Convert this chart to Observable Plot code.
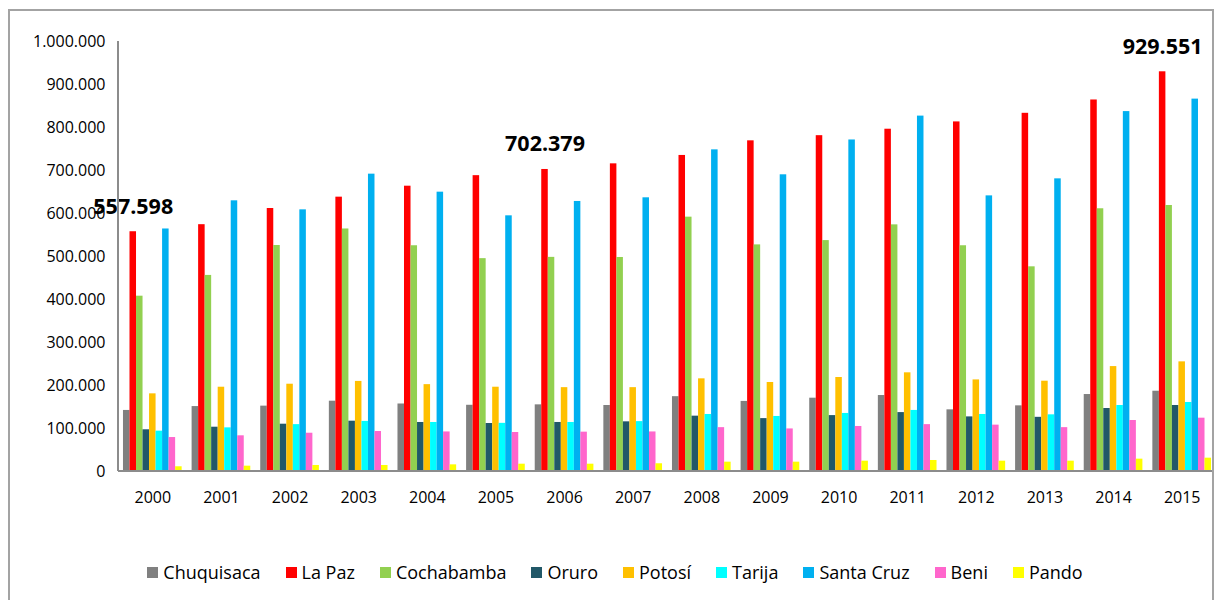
<!DOCTYPE html>
<html>
<head>
<meta charset="utf-8">
<script src="https://cdn.jsdelivr.net/npm/d3@7"></script>
<script src="https://cdn.jsdelivr.net/npm/@observablehq/plot@0.6"></script>
<style>
  html, body { margin: 0; padding: 0; background: #fff; }
  body { width: 1216px; height: 600px; overflow: hidden; position: relative; font-family: 'Open Sans', sans-serif; }
  #border { position: absolute; left: 8px; top: 9px; width: 1206px; height: 620px; border: 2px solid #a3a3a3; box-sizing: border-box; pointer-events: none; }
  #chart { position: absolute; left: 0; top: 0; }
  #chart g[aria-label*="tick label"] { font-size: 16px; font-family: 'Open Sans', sans-serif; fill: #000; }
  #legend { position: absolute; left: 0; top: 559px; width: 1216px; display: flex; justify-content: center; padding-left: 14px; box-sizing: border-box; font-size: 18px; color: #000; line-height: 26px; }
  .item { display: flex; align-items: center; margin: 0 12.5px; }
  .sw { width: 11px; height: 11px; margin-right: 5px; }
</style>
</head>
<body>
<div id="chart"></div>
<div id="legend"></div>
<div id="border"></div>
<script>
const years = ["2000","2001","2002","2003","2004","2005","2006","2007","2008","2009","2010","2011","2012","2013","2014","2015"];
const departments = ["Chuquisaca","La Paz","Cochabamba","Oruro","Potosí","Tarija","Santa Cruz","Beni","Pando"];
const colors = ["#808080","#ff0000","#92d050","#215868","#ffc000","#00ffff","#00b0f0","#ff66cc","#ffff00"];

const chuquisaca = [142000,151000,152000,163500,157000,154000,155000,153500,174000,163000,170500,176700,143400,152700,179000,186700];
const laPaz      = [557598,574000,611600,638000,663500,688000,702379,715500,735000,769000,781000,796000,813000,833000,864000,929551];
const cochabamba = [407700,456000,525600,564000,525000,495000,498000,497700,591500,527000,537000,573600,525000,476000,611000,618600];
const oruro      = [97000,103000,110000,117000,114000,111600,114000,115500,128700,123000,130000,137000,127000,126000,146500,153500];
const potosi     = [180600,196000,203000,209500,202000,196000,195000,195000,215500,207000,218600,229500,213000,210000,244000,255000];
const tarija     = [93800,101500,109000,116500,114000,112000,114000,116000,132600,128000,135000,142000,132600,131800,153500,160500];
const santaCruz  = [564000,629500,608500,691500,649600,594600,628000,636500,748000,690000,771000,826500,641000,680600,837000,866000];
const beni       = [79000,83000,89000,93000,92000,90700,91500,92000,102000,99000,104700,109000,107800,102000,118600,124000];
const pando      = [11000,12400,14000,14000,15500,17000,17000,18000,21700,21700,24000,25600,24000,24000,28700,31000];

const yTicks = [0,100000,200000,300000,400000,500000,600000,700000,800000,900000,1000000];
const labeledDept = "La Paz";
const labeledYears = ["2000","2006","2015"];

const series = [chuquisaca, laPaz, cochabamba, oruro, potosi, tarija, santaCruz, beni, pando];
const rows = departments.flatMap((dept, i) => years.map((year, j) => ({year, dept, value: series[i][j]})));
const labelRows = rows.filter(r => r.dept === labeledDept && labeledYears.includes(r.year));

const locale = d3.formatLocale({decimal: ",", thousands: ".", grouping: [3], currency: ["", ""]});
const fmt = locale.format(",d");

const chart = Plot.plot({
  width: 1216,
  height: 520,
  marginLeft: 118,
  marginRight: 0,
  marginTop: 41,
  marginBottom: 49,
  style: {fontFamily: "'Open Sans', sans-serif", fontSize: "16px", color: "#000", background: "transparent", overflow: "visible"},
  fx: {domain: years, paddingInner: 0.145, paddingOuter: 0.0725, round: false, label: null, axis: "bottom", tickSize: 0, tickPadding: 20},
  x: {domain: departments, padding: 0, round: false, axis: null},
  y: {domain: [0, 1000000], ticks: yTicks, tickFormat: fmt, tickSize: 0, tickPadding: 18, label: null},
  color: {domain: departments, range: colors},
  marks: [
    Plot.barY(rows, {fx: "year", x: "dept", y: "value", fill: "dept"}),
    Plot.text(labelRows, {fx: "year", x: "dept", y: "value", text: d => fmt(d.value), dy: -25, fontWeight: "bold", fontSize: 21.5, fill: "#000"})
  ]
});
document.getElementById("chart").appendChild(chart);

// axis lines drawn from the plot's own scales
const ys = chart.scale("y");
const fxs = chart.scale("fx");
const xr = (fxs && fxs.range) ? fxs.range : [118, 1216];
const sel = d3.select(chart);
sel.append("line")
  .attr("x1", xr[0]).attr("x2", xr[1] - 3)
  .attr("y1", ys.apply(0)).attr("y2", ys.apply(0))
  .attr("stroke", "#8c8c8c").attr("stroke-width", 2);
sel.append("line")
  .attr("x1", xr[0]).attr("x2", xr[0])
  .attr("y1", ys.apply(0)).attr("y2", ys.apply(1000000))
  .attr("stroke", "#8c8c8c").attr("stroke-width", 2);

const legend = d3.select("#legend");
departments.forEach((d, i) => {
  const it = legend.append("div").attr("class", "item");
  it.append("div").attr("class", "sw").style("background", colors[i]);
  it.append("span").text(d);
});
</script>
</body>
</html>
